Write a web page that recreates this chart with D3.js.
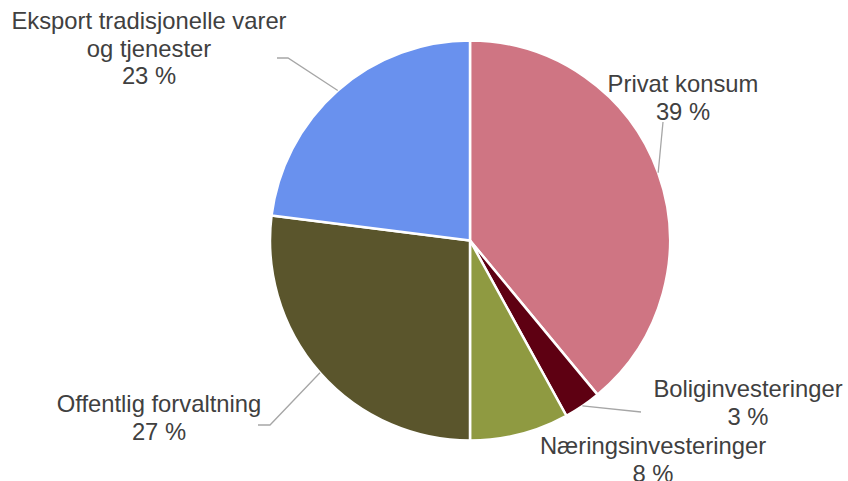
<!DOCTYPE html>
<html>
<head>
<meta charset="utf-8">
<script src="https://cdn.jsdelivr.net/npm/d3@7"></script>
<style>
  body { margin: 0; background: #fff; }
  svg text { font-family: "Liberation Sans", Arial, sans-serif; font-size: 23.8px; fill: #404040; }
</style>
</head>
<body>
<script>
// shares of demand, clockwise from 12 o'clock
var categories = ["Privat konsum", "Boliginvesteringer", "Næringsinvesteringer", "Offentlig forvaltning", "Eksport tradisjonelle varer og tjenester"];
var values = [39, 3, 8, 27, 23];
var colors = ["#cf7583", "#5e0012", "#8f9a41", "#5a552c", "#6991ee"];
// how the label text is broken into lines
var labelLines = [["Privat konsum"], ["Boliginvesteringer"], ["Næringsinvesteringer"], ["Offentlig forvaltning"], ["Eksport tradisjonelle varer", "og tjenester"]];

// layout: label anchor (centre x, first baseline) and leader line start points
var labelPos = [[683, 92], [748, 397], [653, 454], [159, 412], [149, 29]];
var leaderStart = [[[663, 122]], [[641, 412]], null, [[258, 425], [270, 425]], [[277, 58], [288, 58]]];

var width = 848, height = 481,
    cx = 470, cy = 240.5, r = 200,
    lineH = 27.5;

var svg = d3.select("body").append("svg")
    .attr("width", width)
    .attr("height", height);

var data = categories.map(function(c, i) { return {name: c, value: values[i], color: colors[i], i: i}; });

var pie = d3.pie().sort(null).value(function(d) { return d.value; });
var arcs = pie(data);

var arc = d3.arc().innerRadius(0).outerRadius(r);
var edge = d3.arc().innerRadius(r).outerRadius(r);

var g = svg.append("g").attr("transform", "translate(" + cx + "," + cy + ")");

g.selectAll("path.slice")
  .data(arcs)
  .enter().append("path")
    .attr("class", "slice")
    .attr("d", arc)
    .attr("fill", function(d) { return d.data.color; })
    .attr("stroke", "#fff")
    .attr("stroke-width", 2.5)
    .attr("stroke-linejoin", "round");

// leader lines, ending on the rim at the slice middle
svg.selectAll("polyline.leader")
  .data(arcs.filter(function(d) { return leaderStart[d.data.i]; }))
  .enter().append("polyline")
    .attr("class", "leader")
    .attr("fill", "none")
    .attr("stroke", "#a6a6a6")
    .attr("stroke-width", 1.3)
    .attr("points", function(d) {
      var c = edge.centroid(d);
      var pts = leaderStart[d.data.i].concat([[cx + c[0], cy + c[1]]]);
      return pts.map(function(p) { return p.join(","); }).join(" ");
    });

// labels: name lines + percentage
var labels = svg.selectAll("text.label")
  .data(arcs)
  .enter().append("text")
    .attr("class", "label")
    .attr("text-anchor", "middle")
    .attr("x", function(d) { return labelPos[d.data.i][0]; })
    .attr("y", function(d) { return labelPos[d.data.i][1]; });

labels.each(function(d) {
  var t = d3.select(this);
  var lines = labelLines[d.data.i].concat([d.data.value + " %"]);
  lines.forEach(function(l, k) {
    t.append("tspan")
      .attr("x", labelPos[d.data.i][0])
      .attr("dy", k == 0 ? 0 : lineH)
      .text(l);
  });
});
</script>
</body>
</html>
